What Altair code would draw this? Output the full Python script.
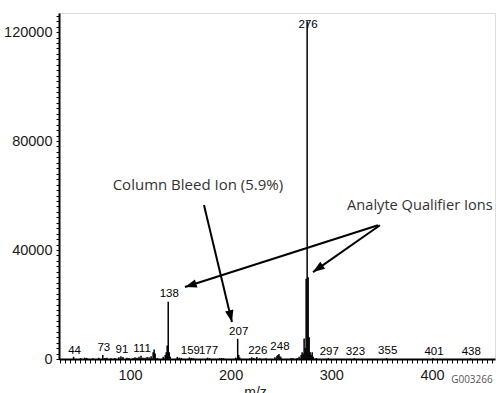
import math
import altair as alt
import pandas as pd

# ---- spectrum (m/z, abundance) ----
mz = [44, 51, 55, 57, 63, 69, 73, 75, 77, 81, 85, 89, 91, 93, 97, 99, 103, 105, 107, 109,
      111, 113, 115, 117, 119, 121, 123, 124, 125, 127, 133, 135, 136, 137, 138, 139, 140,
      147, 149, 151, 159, 161, 163, 177, 179, 189, 191, 193, 205, 207, 208, 209, 219, 221,
      223, 226, 229, 235, 244, 246, 247, 248, 249, 250, 260, 262, 266, 268, 270, 271, 272,
      273, 274, 275, 276, 277, 278, 279, 280, 281, 282, 285, 297, 323, 355, 401, 438]
abundance = [800, 300, 500, 400, 300, 500, 1500, 400, 500, 300, 400, 600, 1000, 700, 500, 400, 400, 600, 500, 800,
             1200, 500, 500, 700, 600, 1000, 2500, 3500, 2000, 400, 800, 1500, 2500, 5000, 21000, 2500, 800,
             800, 500, 400, 600, 400, 300, 500, 300, 300, 400, 300, 500, 7400, 1500, 600, 300, 600,
             400, 700, 300, 300, 600, 1200, 1500, 1800, 1000, 600, 400, 300, 400, 800, 1500, 2500, 2000,
             7500, 4000, 29500, 124000, 30000, 8000, 2500, 1500, 2500, 800, 400, 300, 300, 300, 300, 300]

# ---- peak labels ----
label_mz = [44, 73, 91, 111, 138, 159, 177, 207, 226, 248, 276, 297, 323, 355, 401, 438]
label_text = ["44", "73", "91", "111", "138", "159", "177", "207", "226", "248", "276",
              "297", "323", "355", "401", "438"]
label_y = [2900, 4000, 3300, 3700, 23800, 2900, 2900, 9900, 2900, 4400, 122500,
           2600, 2600, 2900, 2600, 2600]

# ---- annotations ----
note_text = ["Column Bleed Ion (5.9%)", "Analyte Qualifier Ions"]
note_mz = [167.5, 388.0]
note_y = [63800, 56100]
note_size = [15, 14.6]

arrow_x0 = [173.5, 346.4, 348.3]
arrow_y0 = [56500, 49100, 49100]
arrow_x1 = [201.3, 154.6, 281.8]
arrow_y1 = [13600, 26400, 31900]

code_text = ["G003266"]
code_mz = [439.7]
code_y = [-7700]

X_DOMAIN = [29.5, 462.6]
Y_DOMAIN = [0, 127000]
W, H = 436, 346

px_x = W / (X_DOMAIN[1] - X_DOMAIN[0])
px_y = H / (Y_DOMAIN[1] - Y_DOMAIN[0])
angles = []
for a, b, c, d in zip(arrow_x0, arrow_y0, arrow_x1, arrow_y1):
    dx = (c - a) * px_x
    dy = -(d - b) * px_y
    angles.append(math.degrees(math.atan2(dx, -dy)) % 360)

spec_df = pd.DataFrame({"mz": mz, "abundance": abundance})
lab_df = pd.DataFrame({"mz": label_mz, "y": label_y, "t": label_text})
note_df = pd.DataFrame({"mz": note_mz, "y": note_y, "t": note_text, "fs": note_size})
arrow_df = pd.DataFrame({"x0": arrow_x0, "y0": arrow_y0, "x1": arrow_x1, "y1": arrow_y1,
                         "ang": angles})
code_df = pd.DataFrame({"mz": code_mz, "y": code_y, "t": code_text})

xticks = list(range(30, 461, 5))
yticks = [i * 2000 for i in range(0, 64)]

xscale = alt.Scale(domain=X_DOMAIN, nice=False, zero=False)
yscale = alt.Scale(domain=Y_DOMAIN, nice=False)

x_axis = alt.Axis(values=xticks, labelExpr="datum.value % 100 === 0 ? datum.label : ''",
                  labelOverlap=False, labelBound=False, labelFlush=False, grid=False,
                  tickSize=4, tickColor="black", tickWidth=1,
                  domainColor="black", domainWidth=2, labelFont="Liberation Sans",
                  labelFontSize=14.5, labelColor="#1a1a1a", labelPadding=5,
                  title="m/z", titleFont="Liberation Sans", titleFontSize=14,
                  titleFontWeight="normal", titleColor="#222", titleX=196, titlePadding=4)
y_axis = alt.Axis(values=yticks,
                  labelExpr="datum.value % 40000 === 0 ? format(datum.value, 'd') : ''",
                  labelOverlap=False, labelBound=False, labelFlush=False, grid=False,
                  tickSize=3, tickColor="black",
                  domainColor="black", domainWidth=2, labelFont="Liberation Sans",
                  labelFontSize=14.5, labelColor="#1a1a1a", labelPadding=4, title=None)


def X(field):
    return alt.X(field, type="quantitative", scale=xscale, axis=x_axis, title="m/z")


def Y(field):
    return alt.Y(field, type="quantitative", scale=yscale, axis=y_axis, title=None)


bars = alt.Chart(spec_df).mark_rule(color="black", strokeWidth=1.5).encode(
    x=X("mz"), y=Y("abundance"), y2=alt.datum(0))

labels = alt.Chart(lab_df).mark_text(font="Liberation Sans", fontSize=11.5, color="black",
                                     baseline="middle", dx=1).encode(
    x=X("mz"), y=Y("y"), text="t:N")

notes = alt.Chart(note_df).mark_text(font="Open Sans", color="#333",
                                     baseline="middle").encode(
    x=X("mz"), y=Y("y"), text="t:N", size=alt.Size("fs:Q", scale=None, legend=None))

shafts = alt.Chart(arrow_df).mark_rule(color="black", strokeWidth=2).encode(
    x=X("x0"), y=Y("y0"), x2="x1:Q", y2="y1:Q")

heads = alt.Chart(arrow_df).mark_point(shape="M0,0L-0.36,1L0.36,1Z", filled=True,
                                       color="black", opacity=1, size=560).encode(
    x=X("x1"), y=Y("y1"), angle=alt.Angle("ang:Q", scale=None))

code = alt.Chart(code_df).mark_text(font="Open Sans", fontSize=10, color="#555",
                                    baseline="middle").encode(
    x=X("mz"), y=Y("y"), text="t:N")

chart = alt.layer(bars, labels, shafts, heads, notes, code).properties(
    width=W, height=H,
    autosize=alt.AutoSizeParams(type="none"),
    padding={"left": 59, "top": 13, "right": 1, "bottom": 34},
).configure_view(stroke=None).configure(background="white")

chart.save("out.html", embed_options={"renderer": "svg", "actions": False})
